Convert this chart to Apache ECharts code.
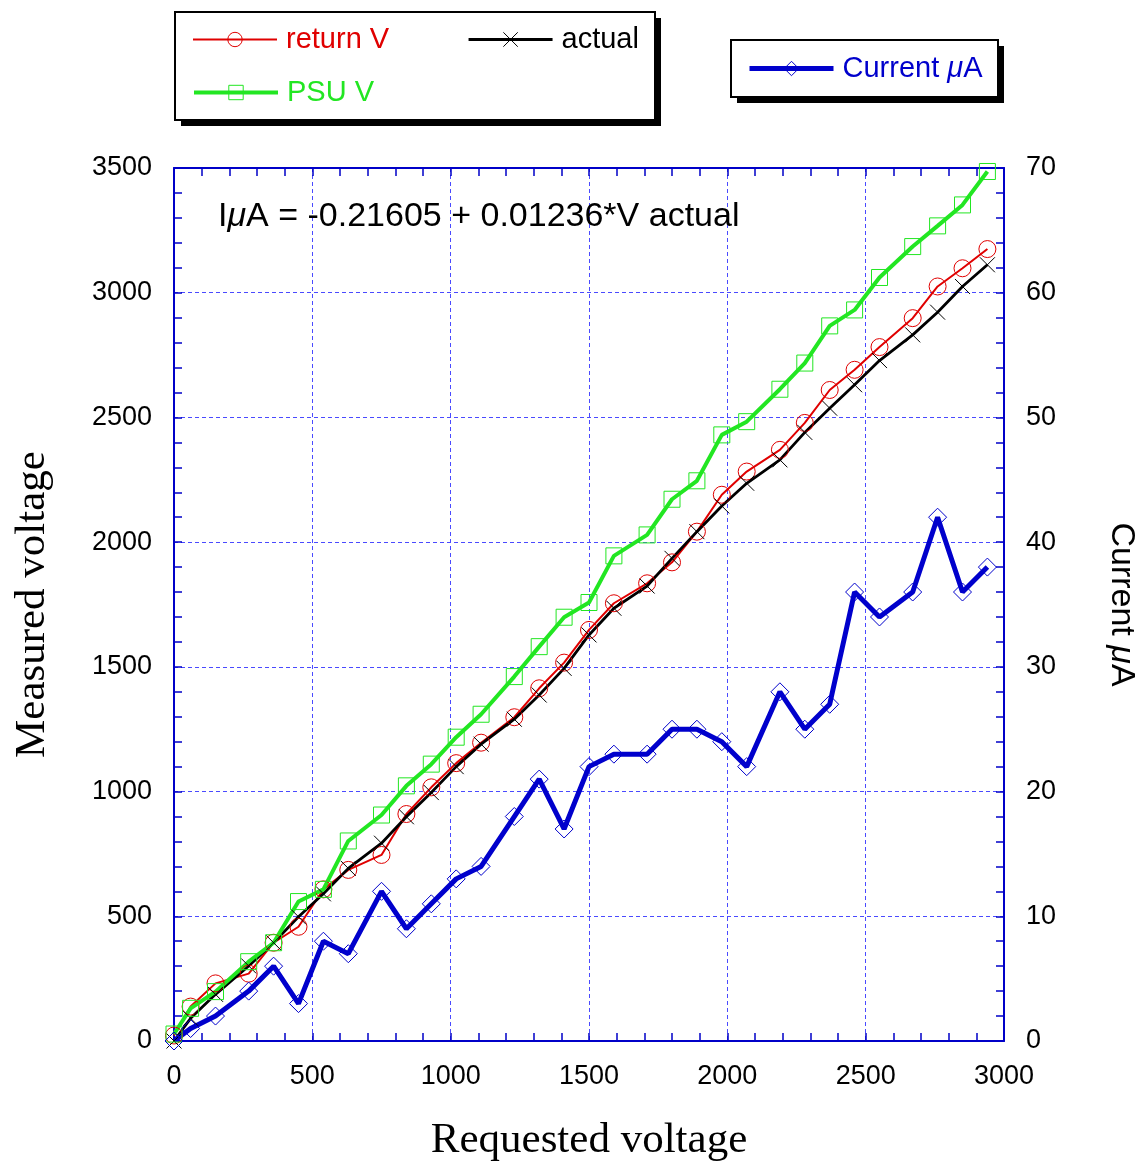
<!DOCTYPE html>
<html>
<head>
<meta charset="utf-8">
<script src="https://cdn.jsdelivr.net/npm/echarts@6/dist/echarts.min.js"></script>
<style>
  html, body { margin: 0; padding: 0; background: #fff; }
  #chart { width: 1144px; height: 1169px; }
</style>
</head>
<body>
<div id="chart"></div>
<script>
// Requested set-point voltage for each measurement step
const requested = [0, 60, 150, 270, 360, 450, 540, 630, 750, 840, 930, 1020, 1110, 1230, 1320, 1410,
  1500, 1590, 1710, 1800, 1890, 1980, 2070, 2190, 2280, 2370, 2460, 2550, 2670, 2760, 2850, 2940];

// Voltage read back from the supply's monitor output
const returnV = [22, 138, 231, 270, 394, 458, 608, 686, 746, 910, 1017, 1114, 1196, 1298, 1414, 1517,
  1648, 1755, 1835, 1919, 2042, 2190, 2283, 2370, 2478, 2610, 2691, 2782, 2898, 3025, 3098, 3175];

// Independently measured output voltage
const actualV = [0, 91, 187, 301, 394, 498, 590, 692, 793, 899, 996, 1100, 1190, 1290, 1387, 1494,
  1628, 1735, 1824, 1935, 2042, 2145, 2236, 2330, 2440, 2537, 2631, 2728, 2831, 2922, 3025, 3112];

// Voltage reported by the PSU display
const psuV = [28, 131, 198, 318, 394, 559, 608, 802, 906, 1023, 1110, 1218, 1310, 1461, 1581, 1699,
  1758, 1945, 2029, 2172, 2246, 2430, 2483, 2613, 2718, 2867, 2931, 3061, 3185, 3268, 3352, 3486];

// Load current in microamps
const currentUA = [0, 1, 2, 4, 6, 3, 8, 7, 12, 9, 11, 13, 14, 18, 21, 17,
  22, 23, 23, 25, 25, 24, 22, 28, 25, 27, 36, 34, 36, 42, 36, 38];

// Axis ranges
const xRange = { min: 0, max: 3000, step: 500 };
const vRange = { min: 0, max: 3500, step: 500 };
const iRange = { min: 0, max: 70, step: 10 };

const pairs = (ys) => requested.map((x, i) => [x, ys[i]]);

const FRAME = '#0000c8';
const GRID = '#4a4aff';
const SANS = '"Liberation Sans", Arial, Helvetica, sans-serif';
const SERIF = '"Liberation Serif", "Times New Roman", serif';
const CROSS = 'path://M0,0L20,20M20,0L0,20';

const COLORS = { ret: '#e00000', act: '#000000', psu: '#22e622', cur: '#0000cc' };
const WIDTHS = { ret: 2, act: 2.8, psu: 4, cur: 5 };

const tickCommon = {
  axisLine: { show: true, onZero: false, lineStyle: { color: FRAME, width: 2 } },
  axisTick: { show: true, inside: true, length: 8, lineStyle: { color: FRAME, width: 1.5 } },
  minorTick: { show: true, splitNumber: 5, length: 8, lineStyle: { color: FRAME, width: 1.5 } },
  axisLabel: { color: '#000', fontSize: 27, fontFamily: SANS, margin: 22, formatter: (v) => String(v) }
};

const gridLine = { show: true, lineStyle: { color: GRID, width: 1, type: [4, 3] } };

function seriesLine(name, ys, color, width, symbol, size, yIdx) {
  return {
    name, type: 'line', xAxisIndex: 0, yAxisIndex: yIdx,
    data: pairs(ys),
    symbol, symbolSize: size,
    lineStyle: { color, width },
    itemStyle: { color: 'rgba(0,0,0,0)', borderColor: color, borderWidth: 1 },
    emphasis: { disabled: true },
    animation: false, z: 3
  };
}

function legendItem(name, key) {
  return {
    name,
    textStyle: { color: COLORS[key] },
    lineStyle: { color: COLORS[key], width: WIDTHS[key] },
    itemStyle: { color: 'rgba(0,0,0,0)', borderColor: COLORS[key], borderWidth: 1 }
  };
}

const legendText = { fontSize: 29, fontFamily: SANS, padding: [0, 0, 0, 4] };

const chart = echarts.init(document.getElementById('chart'), null, { renderer: 'canvas' });

chart.setOption({
  backgroundColor: '#fff',
  animation: false,
  grid: { left: 174, right: 140, top: 168, bottom: 128, containLabel: false, outerBoundsMode: 'none' },
  xAxis: [
    Object.assign({}, tickCommon, {
      type: 'value', position: 'bottom', min: xRange.min, max: xRange.max, interval: xRange.step,
      splitLine: gridLine,
      name: 'Requested voltage', nameLocation: 'middle', nameGap: 78,
      nameTextStyle: { color: '#000', fontSize: 43, fontFamily: SERIF }
    }),
    Object.assign({}, tickCommon, {
      type: 'value', position: 'top', min: xRange.min, max: xRange.max, interval: xRange.step,
      splitLine: { show: false }, axisLabel: { show: false }
    })
  ],
  yAxis: [
    Object.assign({}, tickCommon, {
      type: 'value', position: 'left', min: vRange.min, max: vRange.max, interval: vRange.step,
      splitLine: gridLine,
      name: 'Measured voltage', nameLocation: 'middle', nameGap: 120, nameRotate: 90,
      nameTextStyle: { color: '#000', fontSize: 43, fontFamily: SERIF }
    }),
    Object.assign({}, tickCommon, {
      type: 'value', position: 'right', min: iRange.min, max: iRange.max, interval: iRange.step,
      splitLine: { show: false },
      name: 'Current {i|μ}A', nameLocation: 'middle', nameGap: 100, nameRotate: -90,
      nameTextStyle: {
        color: '#000', fontSize: 34, fontFamily: SANS,
        rich: { i: { fontSize: 34, fontStyle: 'italic', fontFamily: SANS, color: '#000' } }
      }
    })
  ],
  legend: [
    {
      data: [legendItem('return V', 'ret'), legendItem('actual', 'act')],
      left: 192, top: 25, padding: 0, itemWidth: 84, itemHeight: 18, itemGap: 78,
      textStyle: legendText, selectedMode: false, z: 10
    },
    {
      data: [legendItem('PSU V', 'psu')],
      left: 192, top: 78, padding: 0, itemWidth: 84, itemHeight: 18,
      textStyle: legendText, selectedMode: false, z: 10
    },
    {
      data: [legendItem('Current μA', 'cur')],
      formatter: () => 'Current {i|μ}A',
      left: 747, top: 54, padding: 0, itemWidth: 84, itemHeight: 18,
      textStyle: Object.assign({}, legendText, {
        color: COLORS.cur,
        rich: { i: { fontSize: 29, fontStyle: 'italic', fontFamily: SANS, color: COLORS.cur } }
      }),
      selectedMode: false, z: 10
    }
  ],
  graphic: [
    // legend frames with solid drop shadow
    { type: 'rect', z: 1, shape: { x: 181, y: 18, width: 480, height: 108 }, style: { fill: '#000' } },
    { type: 'rect', z: 2, shape: { x: 175, y: 12, width: 480, height: 108 }, style: { fill: '#fff', stroke: '#000', lineWidth: 2 } },
    { type: 'rect', z: 1, shape: { x: 737, y: 46, width: 267, height: 57 }, style: { fill: '#000' } },
    { type: 'rect', z: 2, shape: { x: 731, y: 40, width: 267, height: 57 }, style: { fill: '#fff', stroke: '#000', lineWidth: 2 } },
    // fit annotation
    {
      type: 'text', z: 5, left: 218, top: 200,
      style: {
        text: 'I{i|μ}A = -0.21605 + 0.01236*V actual',
        font: '34px ' + SANS, fill: '#000',
        rich: { i: { fontSize: 34, fontStyle: 'italic', fontFamily: SANS, fill: '#000' } }
      }
    }
  ],
  series: [
    seriesLine('return V', returnV, COLORS.ret, WIDTHS.ret, 'circle', 17, 0),
    seriesLine('actual', actualV, COLORS.act, WIDTHS.act, CROSS, 15, 0),
    seriesLine('PSU V', psuV, COLORS.psu, WIDTHS.psu, 'rect', 16, 0),
    seriesLine('Current μA', currentUA, COLORS.cur, WIDTHS.cur, 'diamond', 18, 1)
  ]
});
</script>
</body>
</html>
